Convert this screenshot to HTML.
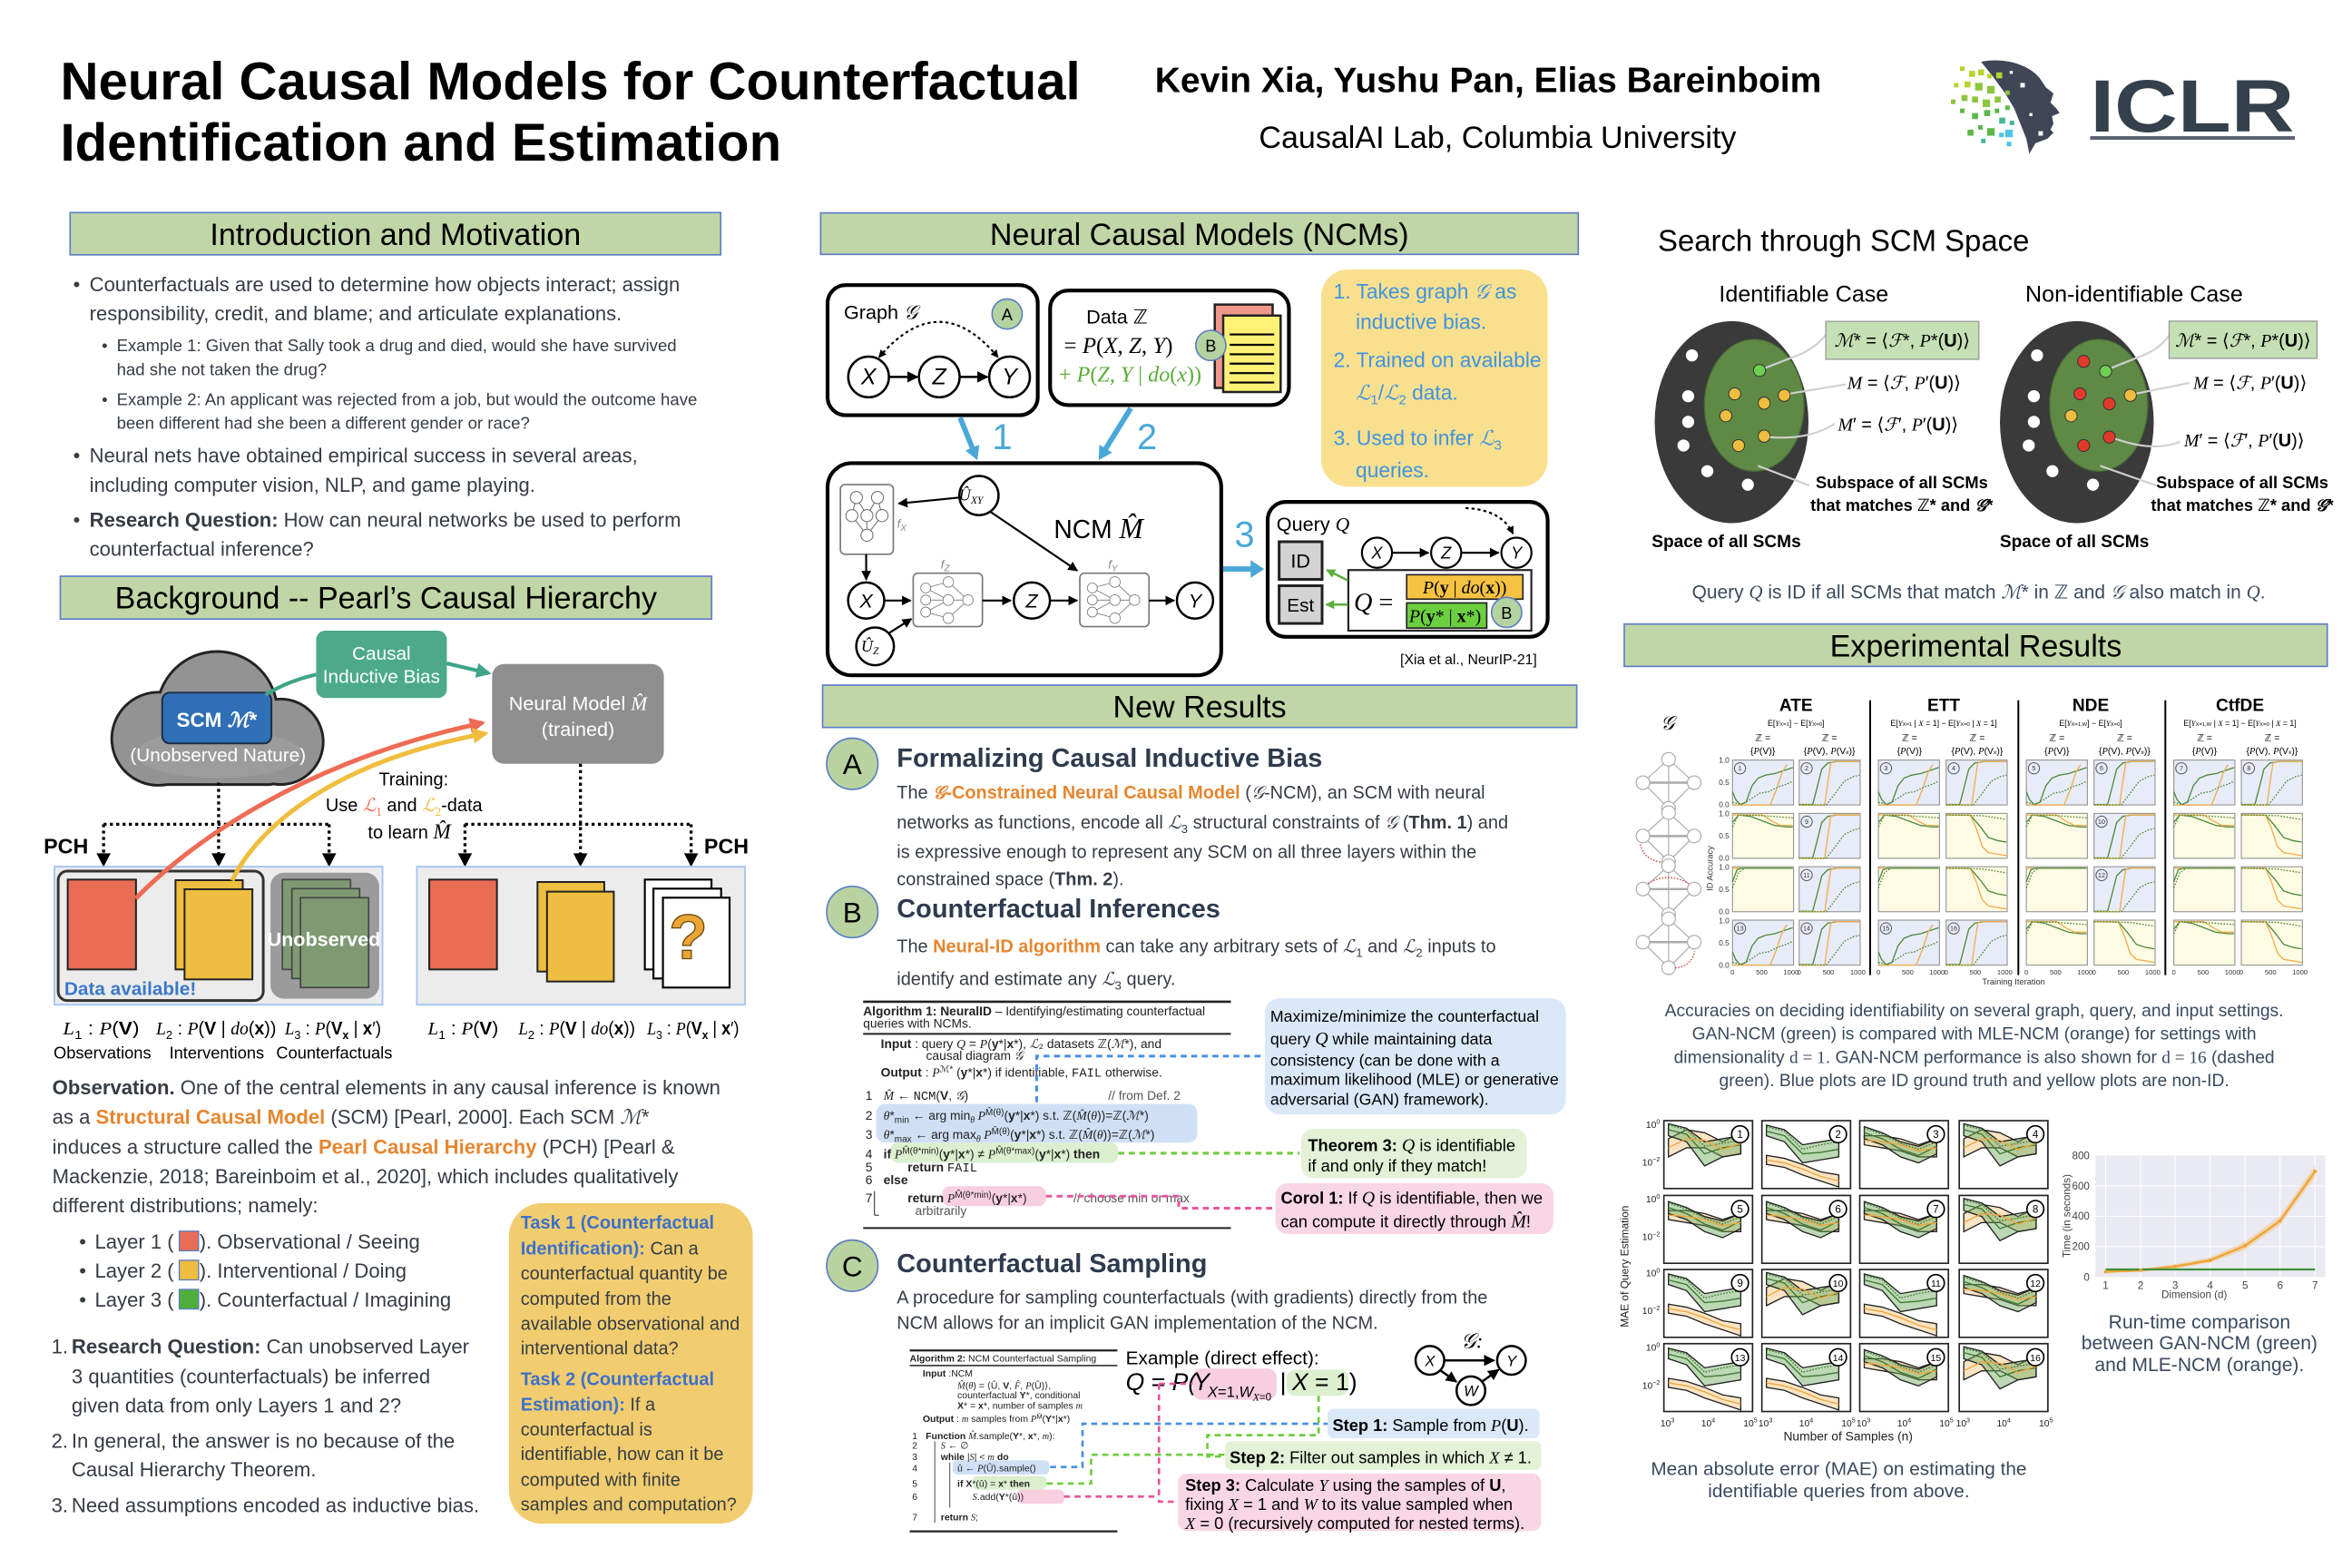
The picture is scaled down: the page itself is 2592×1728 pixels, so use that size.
<!DOCTYPE html>
<html><head><meta charset="utf-8">
<style>
html,body{margin:0;padding:0;background:#fff;}
body{width:2592px;height:1728px;overflow:hidden;}
svg{display:block;}
svg text{font-family:"Liberation Sans","DejaVu Sans",sans-serif;}
.m{font-family:"Liberation Serif","DejaVu Serif",serif;font-style:italic;}
.s{font-family:"Liberation Serif","DejaVu Serif",serif;}
.b{font-weight:bold;}
.tx{fill:#353c45;}
</style></head><body>
<svg width="2592" height="1728" viewBox="0 0 1560 1040" xmlns="http://www.w3.org/2000/svg">
<defs>
<marker id="ah" viewBox="0 0 10 10" refX="9" refY="5" markerWidth="5" markerHeight="5" orient="auto"><path d="M0,0L10,5L0,10z" fill="#000"/></marker>
<marker id="ahs" viewBox="0 0 10 10" refX="9" refY="5" markerWidth="4" markerHeight="4" orient="auto-start-reverse"><path d="M0,0L10,5L0,10z" fill="#000"/></marker>
<marker id="ahg" viewBox="0 0 10 10" refX="9" refY="5" markerWidth="4" markerHeight="4" orient="auto"><path d="M0,0L10,5L0,10z" fill="#5aad3a"/></marker>
<marker id="aht" viewBox="0 0 10 10" refX="8" refY="5" markerWidth="4" markerHeight="4" orient="auto"><path d="M0,0L10,5L0,10z" fill="#3fa489"/></marker>
<marker id="ahr" viewBox="0 0 10 10" refX="8" refY="5" markerWidth="3.5" markerHeight="3.5" orient="auto"><path d="M0,0L10,5L0,10z" fill="#ee6c55"/></marker>
<marker id="ahy" viewBox="0 0 10 10" refX="8" refY="5" markerWidth="3.5" markerHeight="3.5" orient="auto"><path d="M0,0L10,5L0,10z" fill="#f0bd3e"/></marker>
<g id="idA" fill="none" stroke-width="0.8"><polyline points="0,21 2,26 5,29.5 9,28 13,17 17,12 22,10 28,9 34,7 40,5" stroke="#4d8a3a"/><polyline points="0,29.8 25,29.8 29,20 33,8 36,3" stroke="#f0ad4e"/><polyline points="0,28 6,29.5 12,26 18,22 24,21 30,18 36,16 40,14" stroke="#4d8a3a" stroke-dasharray="1,1"/></g>
<g id="idB" fill="none" stroke-width="0.8"><polyline points="0,29.5 9,29.5 12,18 15,6 19,2 25,1 40,1" stroke="#4d8a3a"/><polyline points="0,29.8 17,29.8 19,15 21,2 23,1 40,1" stroke="#f0ad4e"/><polyline points="0,29.8 18,29.8 24,22 30,14 36,11 40,10" stroke="#4d8a3a" stroke-dasharray="1,1"/></g>
<g id="nonA" fill="none" stroke-width="0.8"><polyline points="0,6 4,1 12,2 20,5 28,8 36,9 40,9" stroke="#4d8a3a"/><polyline points="0,1 20,1 26,5 32,8 40,8" stroke="#f0ad4e"/><polyline points="0,9 4,1 20,1.5 40,3" stroke="#4d8a3a" stroke-dasharray="1,1"/></g>
<g id="nonB" fill="none" stroke-width="0.8"><polyline points="0,1 16,1 22,8 28,16 34,18 40,19" stroke="#4d8a3a"/><polyline points="0,1 16,1 20,10 24,22 28,26 34,27 40,28" stroke="#f0ad4e"/><polyline points="0,1 24,1.5 40,4" stroke="#4d8a3a" stroke-dasharray="1,1"/></g>
<g id="flat" fill="none" stroke-width="0.8"><polyline points="0,1 40,1" stroke="#f0ad4e"/><polyline points="0,10 3,2 6,1 40,1" stroke="#4d8a3a"/><polyline points="0,14 4,4 8,1 40,1" stroke="#4d8a3a" stroke-dasharray="1,1"/></g>
<g id="mA" stroke-width="0.8"><polygon points="3,3 15,6 27,16 39,14 51,12 51,24 39,26 27,28 15,14 3,10" fill="#6aa85a" fill-opacity="0.45"/><polygon points="3,23 15,25 27,29 39,34 51,36 51,44 39,40 27,36 15,31 3,29" fill="#f3c47a" fill-opacity="0.45"/><polyline points="3,7 15,10 27,22 39,21 51,19" fill="none" stroke="#3d7a30"/><polyline points="3,4 15,7 27,19 39,16 51,14" fill="none" stroke="#3d7a30" stroke-dasharray="1,1"/><polyline points="3,26 15,28 27,32 39,37 51,40" fill="none" stroke="#f0a53a"/></g>
<g id="mB" stroke-width="0.8"><polygon points="3,10 15,10 27,12 39,16 51,12 51,24 39,24 27,20 15,18 3,16" fill="#f3c47a" fill-opacity="0.45"/><polygon points="3,4 15,8 27,14 39,17 51,12 51,22 39,28 27,24 15,16 3,12" fill="#6aa85a" fill-opacity="0.45"/><polyline points="3,8 15,12 27,19 39,23 51,17" fill="none" stroke="#3d7a30"/><polyline points="3,5 15,9 27,15 39,19 51,14" fill="none" stroke="#3d7a30" stroke-dasharray="1,1"/><polyline points="3,13 15,14 27,16 39,20 51,18" fill="none" stroke="#f0a53a"/></g>
<g id="mC" stroke-width="0.8"><polygon points="3,12 15,6 27,8 39,14 51,8 51,22 39,24 27,18 15,18 3,24" fill="#f3c47a" fill-opacity="0.45"/><polygon points="3,2 15,5 27,14 39,12 51,10 51,22 39,24 27,30 15,14 3,10" fill="#6aa85a" fill-opacity="0.45"/><polyline points="3,6 15,9 27,22 39,18 51,16" fill="none" stroke="#3d7a30"/><polyline points="3,3 15,6 27,17 39,15 51,13" fill="none" stroke="#3d7a30" stroke-dasharray="1,1"/><polyline points="3,18 15,12 27,13 39,19 51,15" fill="none" stroke="#f0a53a"/></g>
<g id="net3" fill="#fff" stroke="#777" stroke-width="0.5"><line x1="7" y1="10" x2="22" y2="6"/><line x1="7" y1="18" x2="22" y2="18"/><line x1="7" y1="26" x2="22" y2="30"/><line x1="7" y1="10" x2="22" y2="18"/><line x1="7" y1="26" x2="22" y2="18"/><line x1="22" y1="6" x2="35" y2="18"/><line x1="22" y1="30" x2="35" y2="18"/><line x1="22" y1="18" x2="35" y2="18"/><circle cx="7" cy="10" r="3.3"/><circle cx="7" cy="18" r="3.3"/><circle cx="7" cy="26" r="3.3"/><circle cx="22" cy="6" r="3.5"/><circle cx="22" cy="18" r="3.5"/><circle cx="22" cy="30" r="3.5"/><circle cx="35" cy="18" r="3.5"/></g>
</defs>

<!-- HEADER -->
<text x="40" y="66" font-size="35" font-weight="bold" fill="#000">Neural Causal Models for Counterfactual</text>
<text x="40" y="106.5" font-size="35" font-weight="bold" fill="#000">Identification and Estimation</text>
<text x="766" y="61" font-size="23.5" font-weight="bold" fill="#000">Kevin Xia, Yushu Pan, Elias Bareinboim</text>
<text x="835" y="98" font-size="20.5" fill="#000">CausalAI Lab, Columbia University</text>
<!-- logo -->
<g>
<path d="M1314,41 C1328,38 1345,42 1353,52 L1357,58 L1362,62 L1360,68 L1364,72 L1366,75 L1361,77 L1362,82 L1360,86 L1362,88 L1358,92 L1350,95 L1346,102 L1344,92 L1340,82 L1336,72 L1330,62 L1322,51 Z" fill="#3f4656"/>
<g fill="#b7d52e"><rect x="1300" y="44" width="3" height="3"/><rect x="1306" y="47" width="4" height="4"/><rect x="1312" y="46" width="4" height="4"/><rect x="1318" y="49" width="3" height="3"/><rect x="1324" y="48" width="4" height="4"/><rect x="1296" y="55" width="3" height="3"/><rect x="1303" y="54" width="4" height="4"/></g>
<g fill="#8cc63f"><rect x="1310" y="55" width="5" height="5"/><rect x="1318" y="57" width="5" height="5"/><rect x="1294" y="66" width="3" height="3"/><rect x="1301" y="63" width="4" height="4"/><rect x="1308" y="64" width="4" height="4"/><rect x="1315" y="66" width="5" height="5"/><rect x="1323" y="64" width="4" height="4"/><rect x="1330" y="60" width="3" height="3"/></g>
<g fill="#5cb848"><rect x="1300" y="72" width="3" height="3"/><rect x="1308" y="75" width="4" height="4"/><rect x="1316" y="73" width="4" height="4"/><rect x="1323" y="72" width="3" height="3"/><rect x="1330" y="70" width="3" height="3"/><rect x="1305" y="86" width="4" height="4"/><rect x="1312" y="83" width="3" height="3"/><rect x="1318" y="85" width="5" height="5"/></g>
<g fill="#46b89a"><rect x="1326" y="78" width="4" height="4"/><rect x="1333" y="80" width="3" height="3"/><rect x="1314" y="92" width="3" height="3"/></g>
<g fill="#4cc2e8"><rect x="1330" y="86" width="5" height="5"/><rect x="1326" y="88" width="3" height="3"/><rect x="1331" y="94" width="3" height="3"/></g>
<g fill="#fff"><rect x="1333" y="47" width="2" height="2"/><rect x="1340" y="55" width="3" height="3"/><rect x="1346" y="75" width="2" height="2"/><rect x="1352" y="87" width="3" height="3"/></g>
<text x="1386.3" y="87.3" font-size="49" font-weight="bold" fill="#34404c" textLength="135.4" lengthAdjust="spacingAndGlyphs">ICLR</text>
<rect x="1386.3" y="90.3" width="135.8" height="2.4" fill="#5a636e"/>
</g>

<!-- SECTION HEADERS -->
<g stroke="#5b7ec9" stroke-width="1" fill="#c1d6a6">
<rect x="46.5" y="141" width="431.5" height="28"/>
<rect x="40" y="382.2" width="432" height="28.4"/>
<rect x="544.3" y="141.2" width="502.5" height="27.5"/>
<rect x="545.6" y="454.4" width="500.2" height="28.1"/>
<rect x="1077.3" y="413.9" width="466.3" height="28.1"/>
</g>
<g font-size="20.5" fill="#000" text-anchor="middle">
<text x="262.3" y="162.4">Introduction and Motivation</text>
<text x="256" y="403.7">Background -- Pearl’s Causal Hierarchy</text>
<text x="795.5" y="162.4">Neural Causal Models (NCMs)</text>
<text x="795.7" y="475.9">New Results</text>
<text x="1310.5" y="435.4">Experimental Results</text>
</g>

<!-- INTRO -->
<g class="tx" font-size="13.25">
<text x="48.5" y="193.2">•</text>
<text x="59.4" y="193.2">Counterfactuals are used to determine how objects interact; assign</text>
<text x="59.4" y="212.6">responsibility, credit, and blame; and articulate explanations.</text>
<text x="48.5" y="306.6">•</text>
<text x="59.4" y="306.6">Neural nets have obtained empirical success in several areas,</text>
<text x="59.4" y="326.1">including computer vision, NLP, and game playing.</text>
<text x="48.5" y="349.3">•</text>
<text x="59.4" y="349.3"><tspan font-weight="bold">Research Question:</tspan> How can neural networks be used to perform</text>
<text x="59.4" y="368.7">counterfactual inference?</text>
</g>
<g class="tx" font-size="11.2">
<text x="67.5" y="233">•</text>
<text x="77.4" y="233">Example 1: Given that Sally took a drug and died, would she have survived</text>
<text x="77.4" y="248.9">had she not taken the drug?</text>
<text x="67.5" y="268.7">•</text>
<text x="77.4" y="268.7">Example 2: An applicant was rejected from a job, but would the outcome have</text>
<text x="77.4" y="284.3">been different had she been a different gender or race?</text>
</g>

<!-- BACKGROUND DIAGRAM -->
<g stroke="#222" stroke-width="3.5" fill="#939393">
<circle cx="144" cy="472" r="39"/><circle cx="105" cy="490" r="30"/><circle cx="186" cy="492" r="27.5"/><rect x="95" y="488" width="95" height="31.5" rx="12"/>
</g>
<g fill="#939393">
<circle cx="144" cy="472" r="39"/><circle cx="105" cy="490" r="30"/><circle cx="186" cy="492" r="27.5"/><rect x="95" y="488" width="95" height="31.5" rx="12"/>
</g>
<ellipse cx="145" cy="500" rx="55" ry="16" fill="#a2a2a2" opacity="0.6"/>
<rect x="107.6" y="459.4" width="72.4" height="33.7" rx="5" fill="#2f6fb6" stroke="#1c2d45" stroke-width="1.2"/>
<text x="143.8" y="482" font-size="13.5" font-weight="bold" fill="#fff" text-anchor="middle">SCM <tspan class="m">ℳ</tspan>*</text>
<text x="144.6" y="505" font-size="12.5" fill="#fff" text-anchor="middle">(Unobserved Nature)</text>
<path d="M176,461 Q190,452 209.7,447.4" stroke="#3fa489" stroke-width="2.5" fill="none"/>
<rect x="209.7" y="418.3" width="86.7" height="44.7" rx="6" fill="#4caa8b"/>
<text x="253" y="437.5" font-size="12.5" fill="#fff" text-anchor="middle">Causal</text>
<text x="253" y="452.9" font-size="12.5" fill="#fff" text-anchor="middle">Inductive Bias</text>
<line x1="296.4" y1="440" x2="324" y2="446.5" stroke="#3fa489" stroke-width="2.5" marker-end="url(#aht)"/>
<rect x="326.4" y="440.4" width="113.9" height="66.2" rx="8" fill="#8f8f8f"/>
<text x="383.4" y="471" font-size="13" fill="#fff" text-anchor="middle">Neural Model <tspan class="m">M̂</tspan></text>
<text x="383.4" y="488" font-size="13" fill="#fff" text-anchor="middle">(trained)</text>

<!-- dotted -->
<g stroke="#000" stroke-width="2" stroke-dasharray="2,2.2" fill="none">
<path d="M145,519 V568"/><path d="M68.7,546.7 H218.3"/><path d="M68.7,546.7 V568"/><path d="M218.3,546.7 V568"/>
<path d="M385,506.6 V568"/><path d="M308.4,546.7 H458.4"/><path d="M308.4,546.7 V568"/><path d="M458.4,546.7 V568"/>
</g>
<g fill="#000">
<path d="M64,566 L73.4,566 L68.7,575z"/><path d="M140.3,566 L149.7,566 L145,575z"/><path d="M213.6,566 L223,566 L218.3,575z"/>
<path d="M303.7,566 L313.1,566 L308.4,575z"/><path d="M380.3,566 L389.7,566 L385,575z"/><path d="M453.7,566 L463.1,566 L458.4,575z"/>
</g>
<text x="29" y="566" font-size="14" font-weight="bold" fill="#000">PCH</text>
<text x="467" y="566" font-size="14" font-weight="bold" fill="#000">PCH</text>
<g font-size="12" fill="#000">
<text x="274.3" y="521" text-anchor="middle">Training:</text>
<text x="216" y="538">Use <tspan class="m" fill="#ee6c55">ℒ</tspan><tspan font-size="8" dy="3" fill="#ee6c55" class="s">1</tspan><tspan dy="-3"> and </tspan><tspan class="m" fill="#f0bd3e">ℒ</tspan><tspan font-size="8" dy="3" fill="#f0bd3e" class="s">2</tspan><tspan dy="-3">-data</tspan></text>
<text x="244" y="556">to learn <tspan class="m" font-size="14">M̂</tspan></text>
</g>

<!-- panels -->
<rect x="36.1" y="574.8" width="217.6" height="91.6" fill="#ececec" stroke="#a9c8ee" stroke-width="1.2"/>
<rect x="276.5" y="574.8" width="217.6" height="91.6" fill="#ececec" stroke="#a9c8ee" stroke-width="1.2"/>
<rect x="38.6" y="577.8" width="136" height="85.8" rx="6" fill="none" stroke="#333" stroke-width="1.8"/>
<g stroke="#222" stroke-width="1.2">
<rect x="44.9" y="583.4" width="45.3" height="59.6" fill="#e96c55"/>
<rect x="116.4" y="583.8" width="44.6" height="59.2" fill="#efbd40"/>
<rect x="122.4" y="589.8" width="45" height="59.8" fill="#efbd40"/>
</g>
<text x="42.7" y="660" font-size="12.5" font-weight="bold" fill="#3a78c9">Data available!</text>
<rect x="179.4" y="578.8" width="72.1" height="83.6" rx="9" fill="#9b9b9b"/>
<g stroke="#444" stroke-width="1" fill="#7f9a72">
<rect x="187.3" y="583.4" width="45.2" height="59.6"/><rect x="193.6" y="589.4" width="44.9" height="59.6"/><rect x="199.3" y="595.4" width="45.2" height="59.6"/>
</g>
<text x="214.8" y="627.5" font-size="13" font-weight="bold" fill="#fff" text-anchor="middle">Unobserved</text>
<g stroke="#222" stroke-width="1.2">
<rect x="284.7" y="583.4" width="44.9" height="59.6" fill="#e96c55"/>
<rect x="356.5" y="585" width="44.3" height="59.4" fill="#efbd40"/>
<rect x="362.8" y="591.4" width="44.3" height="59.6" fill="#efbd40"/>
</g>
<g stroke="#000" stroke-width="1.3" fill="#fff">
<rect x="427.7" y="583.4" width="44.2" height="59.6"/><rect x="433.4" y="589.4" width="44.9" height="59.6"/><rect x="439.7" y="595.4" width="44.2" height="59.6"/>
</g>
<text x="456.5" y="636" font-size="42" font-weight="bold" fill="#eca535" stroke="#6a4a10" stroke-width="0.8" text-anchor="middle">?</text>
<!-- curves -->
<path d="M90,596 C125,560 200,505 320,479.5" stroke="#ee6c55" stroke-width="3" fill="none" marker-end="url(#ahr)"/>
<path d="M154,584 C170,550 220,505 322,486.5" stroke="#f0bd3e" stroke-width="3" fill="none" marker-end="url(#ahy)"/>

<!-- layer labels -->
<g font-size="12" fill="#000" class="s">
<text x="41.8" y="686" textLength="50.6" lengthAdjust="spacingAndGlyphs"><tspan class="m">L</tspan><tspan font-size="8" dy="3">1</tspan><tspan dy="-3"> : </tspan><tspan class="m">P</tspan>(<tspan font-weight="bold">V</tspan>)</text>
<text x="103.5" y="686" textLength="79.7" lengthAdjust="spacingAndGlyphs"><tspan class="m">L</tspan><tspan font-size="8" dy="3">2</tspan><tspan dy="-3"> : </tspan><tspan class="m">P</tspan>(<tspan font-weight="bold">V</tspan> | <tspan class="m">do</tspan>(<tspan font-weight="bold">x</tspan>))</text>
<text x="188.9" y="686" textLength="63.9" lengthAdjust="spacingAndGlyphs"><tspan class="m">L</tspan><tspan font-size="8" dy="3">3</tspan><tspan dy="-3"> : </tspan><tspan class="m">P</tspan>(<tspan font-weight="bold">V</tspan><tspan font-size="8" dy="3" font-weight="bold">x</tspan><tspan dy="-3"> | </tspan><tspan font-weight="bold">x</tspan>′)</text>
<text x="283.8" y="686" textLength="46.8" lengthAdjust="spacingAndGlyphs"><tspan class="m">L</tspan><tspan font-size="8" dy="3">1</tspan><tspan dy="-3"> : </tspan><tspan class="m">P</tspan>(<tspan font-weight="bold">V</tspan>)</text>
<text x="343.8" y="686" textLength="77.5" lengthAdjust="spacingAndGlyphs"><tspan class="m">L</tspan><tspan font-size="8" dy="3">2</tspan><tspan dy="-3"> : </tspan><tspan class="m">P</tspan>(<tspan font-weight="bold">V</tspan> | <tspan class="m">do</tspan>(<tspan font-weight="bold">x</tspan>))</text>
<text x="429.2" y="686" textLength="61" lengthAdjust="spacingAndGlyphs"><tspan class="m">L</tspan><tspan font-size="8" dy="3">3</tspan><tspan dy="-3"> : </tspan><tspan class="m">P</tspan>(<tspan font-weight="bold">V</tspan><tspan font-size="8" dy="3" font-weight="bold">x</tspan><tspan dy="-3"> | </tspan><tspan font-weight="bold">x</tspan>′)</text>
</g>
<g font-size="11" fill="#000">
<text x="35.5" y="702">Observations</text><text x="112.3" y="702">Interventions</text><text x="183.2" y="702">Counterfactuals</text>
</g>

<!-- OBSERVATION -->
<g class="tx" font-size="13.3">
<text x="34.7" y="725.7"><tspan font-weight="bold">Observation.</tspan> One of the central elements in any causal inference is known</text>
<text x="34.7" y="745.5">as a <tspan font-weight="bold" fill="#e5862f">Structural Causal Model</tspan> (SCM) [Pearl, 2000]. Each SCM <tspan class="m">ℳ</tspan>*</text>
<text x="34.7" y="765.2">induces a structure called the <tspan font-weight="bold" fill="#e5862f">Pearl Causal Hierarchy</tspan> (PCH) [Pearl &amp;</text>
<text x="34.7" y="784.9">Mackenzie, 2018; Bareinboim et al., 2020], which includes qualitatively</text>
<text x="34.7" y="804">different distributions; namely:</text>
<text x="52.5" y="828.1">•</text><text x="62.9" y="828.1">Layer 1 (</text><text x="132.3" y="828.1">). Observational / Seeing</text>
<text x="52.5" y="847.4">•</text><text x="62.9" y="847.4">Layer 2 (</text><text x="132.3" y="847.4">). Interventional / Doing</text>
<text x="52.5" y="866.7">•</text><text x="62.9" y="866.7">Layer 3 (</text><text x="132.3" y="866.7">). Counterfactual / Imagining</text>
<text x="34.1" y="897.8">1.</text><text x="47.5" y="897.8"><tspan font-weight="bold">Research Question:</tspan> Can unobserved Layer</text>
<text x="47.5" y="917.5">3 quantities (counterfactuals) be inferred</text>
<text x="47.5" y="936.8">given data from only Layers 1 and 2?</text>
<text x="34.1" y="960.3">2.</text><text x="47.5" y="960.3">In general, the answer is no because of the</text>
<text x="47.5" y="979.3">Causal Hierarchy Theorem.</text>
<text x="34.1" y="1003">3.</text><text x="47.5" y="1003">Need assumptions encoded as inductive bias.</text>
</g>
<g stroke="#5a7fc0" stroke-width="0.8">
<rect x="118.9" y="816.6" width="12.8" height="13" fill="#e96c55"/>
<rect x="118.9" y="835.9" width="12.8" height="13" fill="#efbd40"/>
<rect x="118.9" y="855.2" width="12.8" height="13" fill="#4fae3a"/>
</g>
<!-- Task box -->
<rect x="337.6" y="798" width="161.7" height="212.6" rx="22" fill="#f2cd6f"/>
<g font-size="12" class="tx">
<text x="345.3" y="815" font-weight="bold" fill="#3d70c9">Task 1 (Counterfactual</text>
<text x="345.3" y="832"><tspan font-weight="bold" fill="#3d70c9">Identification):</tspan> Can a</text>
<text x="345.3" y="848.6">counterfactual quantity be</text>
<text x="345.3" y="865.5">computed from the</text>
<text x="345.3" y="882">available observational and</text>
<text x="345.3" y="898.4">interventional data?</text>
<text x="345.3" y="918.8" font-weight="bold" fill="#3d70c9">Task 2 (Counterfactual</text>
<text x="345.3" y="935.6"><tspan font-weight="bold" fill="#3d70c9">Estimation):</tspan> If a</text>
<text x="345.3" y="952.1">counterfactual is</text>
<text x="345.3" y="968.5">identifiable, how can it be</text>
<text x="345.3" y="985.4">computed with finite</text>
<text x="345.3" y="1001.9">samples and computation?</text>
</g>

<!-- NCM SECTION -->
<g fill="#fff" stroke="#000" stroke-width="2.5">
<rect x="548.9" y="189.1" width="139.4" height="86.3" rx="12"/>
<rect x="696.5" y="192.7" width="158.4" height="76" rx="12"/>
<rect x="548.9" y="307.2" width="261.1" height="140.7" rx="16"/>
<rect x="840.8" y="332.9" width="185.7" height="89.5" rx="12"/>
</g>
<text x="559.7" y="211.6" font-size="13" fill="#000">Graph <tspan class="m">𝒢</tspan></text>
<g fill="#b5d3a0" stroke="#5b7fc4" stroke-width="1">
<circle cx="668" cy="208.3" r="10"/>
</g>
<path d="M583,237 Q623,190 662,237" fill="none" stroke="#000" stroke-width="1.3" stroke-dasharray="2,2" marker-start="url(#ahs)" marker-end="url(#ahs)"/>
<g fill="#fff" stroke="#000" stroke-width="1.5">
<circle cx="576.1" cy="250" r="13.5"/><circle cx="623" cy="250" r="13.5"/><circle cx="669.6" cy="250" r="13.5"/>
</g>
<g stroke="#000" stroke-width="1.5"><line x1="589.6" y1="250" x2="608.5" y2="250" marker-end="url(#ah)"/><line x1="636.5" y1="250" x2="655" y2="250" marker-end="url(#ah)"/></g>
<g class="m" font-size="15" text-anchor="middle" fill="#000"><text x="576.1" y="255">X</text><text x="623" y="255">Z</text><text x="669.6" y="255">Y</text></g>
<text x="668" y="212.5" font-size="11" text-anchor="middle" fill="#000">A</text>
<!-- data -->
<text x="720.5" y="214.7" font-size="13" fill="#000">Data ℤ</text>
<text x="705.7" y="234" font-size="15" fill="#000" class="s">= <tspan class="m">P</tspan>(<tspan class="m">X</tspan>, <tspan class="m">Z</tspan>, <tspan class="m">Y</tspan>)</text>
<text x="702.4" y="253" font-size="14.5" fill="#5aad3a" class="s">+ <tspan class="m">P</tspan>(<tspan class="m">Z</tspan>, <tspan class="m">Y</tspan> | <tspan class="m">do</tspan>(<tspan class="m">x</tspan>))</text>
<rect x="805.7" y="202" width="38.4" height="55.3" fill="#f0968a" stroke="#222" stroke-width="1.5"/>
<rect x="811.3" y="209.3" width="38.1" height="50.7" fill="#fff176" stroke="#222" stroke-width="1.5"/>
<g stroke="#000" stroke-width="1.3"><line x1="815.6" y1="221.8" x2="845.1" y2="221.8"/><line x1="815.6" y1="228.7" x2="845.1" y2="228.7"/><line x1="815.6" y1="235" x2="845.1" y2="235"/><line x1="815.6" y1="241.2" x2="845.1" y2="241.2"/><line x1="815.6" y1="247.5" x2="845.1" y2="247.5"/><line x1="815.6" y1="253.7" x2="845.1" y2="253.7"/></g>
<circle cx="803.1" cy="229.1" r="10" fill="#b5d3a0" stroke="#5b7fc4" stroke-width="1"/>
<text x="803.1" y="233.3" font-size="11" text-anchor="middle" fill="#000">B</text>
<!-- blue arrows -->
<g stroke="#4aa8d8" stroke-width="3.5"><line x1="636.8" y1="277" x2="645.5" y2="298.5"/><line x1="750" y1="270.8" x2="732.5" y2="299"/><line x1="811.3" y1="377.4" x2="831" y2="377.4"/></g>
<g fill="#4aa8d8"><path d="M648.3,305.2 L649.5,295 L640.3,298.8z"/><path d="M728.7,305.2 L737.7,300.2 L729.2,295z"/><path d="M838.5,377.4 L829.5,371.5 L829.5,383.3z"/></g>
<g font-size="24" fill="#4aa8d8" text-anchor="middle"><text x="664.7" y="298">1</text><text x="760.8" y="298">2</text><text x="825.4" y="362.6">3</text></g>
<!-- NCM inner -->
<rect x="557.4" y="321.4" width="35.1" height="46.2" rx="3" fill="#fff" stroke="#777" stroke-width="1"/>
<g fill="#fff" stroke="#666" stroke-width="0.6">
<line x1="568" y1="330" x2="565" y2="342"/><line x1="568" y1="330" x2="575" y2="342"/><line x1="582" y1="330" x2="575" y2="342"/><line x1="582" y1="330" x2="585" y2="342"/><line x1="565" y1="342" x2="575" y2="355"/><line x1="575" y1="342" x2="575" y2="355"/><line x1="585" y1="342" x2="575" y2="355"/>
<circle cx="568" cy="330" r="4"/><circle cx="582" cy="330" r="4"/><circle cx="565" cy="342" r="4"/><circle cx="575" cy="342" r="4"/><circle cx="585" cy="342" r="4"/><circle cx="575" cy="355" r="4"/>
</g>
<rect x="605.7" y="380.2" width="45.9" height="35.4" rx="3" fill="#fff" stroke="#777" stroke-width="1"/>
<rect x="716.2" y="380.2" width="45.9" height="35.4" rx="3" fill="#fff" stroke="#777" stroke-width="1"/>
<use href="#net3" x="607" y="380"/><use href="#net3" x="717.5" y="380"/>
<g class="m" font-size="8" fill="#888"><text x="595" y="350">f<tspan font-size="6" dy="2">X</tspan></text><text x="624" y="377">f<tspan font-size="6" dy="2">Z</tspan></text><text x="735" y="377">f<tspan font-size="6" dy="2">Y</tspan></text></g>
<g fill="#fff" stroke="#000" stroke-width="1.5">
<circle cx="649.3" cy="328.7" r="13"/><circle cx="574.5" cy="398.3" r="12"/><circle cx="684.4" cy="398.3" r="12"/><circle cx="792.6" cy="398.3" r="12"/><circle cx="580.4" cy="428.7" r="12.5"/>
</g>
<g stroke="#000" stroke-width="1.3">
<line x1="636.3" y1="330" x2="596" y2="334" marker-end="url(#ah)"/>
<line x1="657" y1="339.5" x2="714.5" y2="378.5" marker-end="url(#ah)"/>
<line x1="574.5" y1="367.6" x2="574.5" y2="384.5" marker-end="url(#ah)"/>
<line x1="586.5" y1="398.3" x2="604" y2="398.3" marker-end="url(#ah)"/>
<line x1="651.6" y1="398.3" x2="670.5" y2="398.3" marker-end="url(#ah)"/>
<line x1="696.4" y1="398.3" x2="714.5" y2="398.3" marker-end="url(#ah)"/>
<line x1="762.1" y1="398.3" x2="778.8" y2="398.3" marker-end="url(#ah)"/>
<line x1="589.5" y1="420" x2="604.5" y2="410.5" marker-end="url(#ah)"/>
</g>
<g class="m" font-size="13" text-anchor="middle" fill="#000"><text x="574.5" y="403">X</text><text x="684.4" y="403">Z</text><text x="792.6" y="403">Y</text></g>
<text x="644" y="332" class="m" font-size="11" text-anchor="middle" fill="#000">Û<tspan font-size="7" dy="2">XY</tspan></text>
<text x="577" y="432" class="m" font-size="11" text-anchor="middle" fill="#000">Û<tspan font-size="7" dy="2">Z</tspan></text>
<text x="699" y="357" font-size="17" fill="#000">NCM <tspan class="m" font-size="19">M̂</tspan></text>
<!-- Query -->
<text x="846.7" y="352" font-size="13" fill="#000">Query <tspan class="m">Q</tspan></text>
<g fill="#d3d3d3" stroke="#222" stroke-width="1.8"><rect x="848.4" y="359.3" width="28.5" height="25"/><rect x="848.4" y="388.5" width="28.5" height="25"/></g>
<text x="862.6" y="376.5" font-size="13" text-anchor="middle" fill="#000">ID</text>
<text x="862.6" y="405.7" font-size="12.5" text-anchor="middle" fill="#000">Est</text>
<g fill="#fff" stroke="#000" stroke-width="1.3"><circle cx="913.3" cy="366.6" r="10"/><circle cx="959.2" cy="366.6" r="10"/><circle cx="1005.8" cy="366.6" r="10"/></g>
<g stroke="#000" stroke-width="1.3"><line x1="923.3" y1="366.6" x2="947.5" y2="366.6" marker-end="url(#ah)"/><line x1="969.2" y1="366.6" x2="994" y2="366.6" marker-end="url(#ah)"/></g>
<path d="M972,337 Q996,338 1003.5,354" fill="none" stroke="#000" stroke-width="1.3" stroke-dasharray="2,2" marker-end="url(#ahs)"/>
<g class="m" font-size="11" text-anchor="middle" fill="#000"><text x="913.3" y="370.5">X</text><text x="959.2" y="370.5">Z</text><text x="1005.8" y="370.5">Y</text></g>
<rect x="894.3" y="378.1" width="121.4" height="40.2" fill="#fff" stroke="#222" stroke-width="1.3"/>
<text x="898" y="405" class="m" font-size="17" fill="#000">Q <tspan font-style="normal">=</tspan></text>
<rect x="933" y="381.2" width="77.1" height="16.2" fill="#f5c242" stroke="#222" stroke-width="1"/>
<text x="971.5" y="393.5" class="s" font-size="12" text-anchor="middle" fill="#000"><tspan class="m">P</tspan>(<tspan font-weight="bold">y</tspan> | <tspan class="m">do</tspan>(<tspan font-weight="bold">x</tspan>))</text>
<rect x="933" y="399.9" width="53.1" height="16.7" fill="#6ccf3f" stroke="#222" stroke-width="1"/>
<text x="958.5" y="412.5" class="s" font-size="12" text-anchor="middle" fill="#000"><tspan class="m">P</tspan>(<tspan font-weight="bold">y</tspan>* | <tspan font-weight="bold">x</tspan>*)</text>
<circle cx="999.3" cy="406.2" r="10" fill="#b5d3a0" stroke="#5b7fc4" stroke-width="1"/>
<text x="999.3" y="410.4" font-size="11" text-anchor="middle" fill="#000">B</text>
<g stroke="#5aad3a" stroke-width="1.5"><line x1="894" y1="385" x2="880" y2="378" marker-end="url(#ahg)"/><line x1="894" y1="401" x2="879.5" y2="401" marker-end="url(#ahg)"/></g>
<text x="928.7" y="440.5" font-size="9.5" fill="#000">[Xia et al., NeurIP-21]</text>
<!-- info box -->
<rect x="876.3" y="178.7" width="150.2" height="144.2" rx="18" fill="#f9e08f"/>
<g font-size="13.7" fill="#3f93e0">
<text x="884.5" y="197.9">1. Takes graph <tspan class="m">𝒢</tspan> as</text>
<text x="899.2" y="218.1">inductive bias.</text>
<text x="884.5" y="243.6">2. Trained on available</text>
<text x="899.2" y="265"><tspan class="m">ℒ</tspan><tspan font-size="9" dy="3">1</tspan><tspan dy="-3">/</tspan><tspan class="m">ℒ</tspan><tspan font-size="9" dy="3">2</tspan><tspan dy="-3"> data.</tspan></text>
<text x="884.5" y="295.2">3. Used to infer <tspan class="m">ℒ</tspan><tspan font-size="9" dy="3">3</tspan></text>
<text x="899.2" y="316.6">queries.</text>
</g>

<!-- NEW RESULTS -->
<g fill="#b9d3a0" stroke="#5b7fc4" stroke-width="1"><circle cx="565.3" cy="506.6" r="17"/><circle cx="565.3" cy="604.9" r="17"/><circle cx="565.3" cy="839.5" r="17"/></g>
<g font-size="19" text-anchor="middle" fill="#000"><text x="565.3" y="513.5">A</text><text x="565.3" y="611.8">B</text><text x="565.3" y="846.4">C</text></g>
<g font-size="17.4" font-weight="bold" fill="#2e3b4e">
<text x="594.8" y="508.5">Formalizing Causal Inductive Bias</text>
<text x="594.8" y="608.6">Counterfactual Inferences</text>
<text x="594.8" y="843.8">Counterfactual Sampling</text>
</g>
<g class="tx" font-size="12">
<text x="594.8" y="529.5">The <tspan font-weight="bold" fill="#e5862f"><tspan class="m">𝒢</tspan>-Constrained Neural Causal Model</tspan> (<tspan class="m">𝒢</tspan>-NCM), an SCM with neural</text>
<text x="594.8" y="549.5">networks as functions, encode all <tspan class="m">ℒ</tspan><tspan font-size="8" dy="3">3</tspan><tspan dy="-3"> structural constraints of </tspan><tspan class="m">𝒢</tspan> (<tspan font-weight="bold">Thm. 1</tspan>) and</text>
<text x="594.8" y="569">is expressive enough to represent any SCM on all three layers within the</text>
<text x="594.8" y="587">constrained space (<tspan font-weight="bold">Thm. 2</tspan>).</text>
<text x="594.8" y="631.8">The <tspan font-weight="bold" fill="#e5862f">Neural-ID algorithm</tspan> can take any arbitrary sets of <tspan class="m">ℒ</tspan><tspan font-size="8" dy="3">1</tspan><tspan dy="-3"> and </tspan><tspan class="m">ℒ</tspan><tspan font-size="8" dy="3">2</tspan><tspan dy="-3"> inputs to</tspan></text>
<text x="594.8" y="653.3">identify and estimate any <tspan class="m">ℒ</tspan><tspan font-size="8" dy="3">3</tspan><tspan dy="-3"> query.</tspan></text>
<text x="594.8" y="864.5">A procedure for sampling counterfactuals (with gradients) directly from the</text>
<text x="594.8" y="881.3">NCM allows for an implicit GAN implementation of the NCM.</text>
</g>

<!-- ALGORITHM 1 -->
<rect x="581.1" y="732.2" width="213" height="25.7" rx="6" fill="#cfe0f6"/>
<rect x="590.4" y="757.9" width="151.3" height="13.4" rx="5" fill="#dcefcf"/>
<rect x="625" y="786.8" width="68.8" height="13.2" rx="5" fill="#f8cfe0"/>
<g stroke="#222"><line x1="572.5" y1="664.4" x2="816.4" y2="664.4" stroke-width="1.6"/><line x1="572.5" y1="685.7" x2="816.4" y2="685.7" stroke-width="1.2"/><line x1="572.5" y1="814.5" x2="816.4" y2="814.5" stroke-width="1.2"/><line x1="580" y1="790" x2="580" y2="806" stroke-width="0.6"/><line x1="580" y1="806" x2="583" y2="806" stroke-width="0.6"/></g>
<g class="s" font-size="8.3" fill="#222">
<text x="572.5" y="673.4"><tspan font-weight="bold">Algorithm 1:</tspan> <tspan font-weight="bold">NeuralID</tspan> – Identifying/estimating counterfactual</text>
<text x="572.5" y="681.5">queries with NCMs.</text>
<text x="584.2" y="695"><tspan font-weight="bold">Input</tspan>   : query <tspan class="m">Q</tspan> = <tspan class="m">P</tspan>(<tspan font-weight="bold">y</tspan>*|<tspan font-weight="bold">x</tspan>*), <tspan class="m">ℒ</tspan>₂ datasets ℤ(<tspan class="m">ℳ</tspan>*), and</text>
<text x="614.2" y="703">causal diagram <tspan class="m">𝒢</tspan></text>
<text x="584.2" y="714"><tspan font-weight="bold">Output</tspan> : <tspan class="m">P</tspan><tspan font-size="6" dy="-3">ℳ*</tspan><tspan dy="3"> (</tspan><tspan font-weight="bold">y</tspan>*|<tspan font-weight="bold">x</tspan>*) if identifiable, <tspan font-family="Liberation Mono,monospace">FAIL</tspan> otherwise.</text>
<text x="574" y="729.6">1</text><text x="586" y="729.6"><tspan class="m">M̂</tspan> ← <tspan font-family="Liberation Mono,monospace">NCM</tspan>(<tspan font-weight="bold">V</tspan>, <tspan class="m">𝒢</tspan>)</text><text x="735" y="729.6" font-family="Liberation Mono,monospace" fill="#555">// from Def. 2</text>
<text x="574" y="742.8">2</text><text x="586" y="742.8"><tspan class="m">θ</tspan>*<tspan font-size="6" dy="2">min</tspan><tspan dy="-2"> ← arg min</tspan><tspan font-size="6" class="m" dy="2">θ</tspan><tspan dy="-2" class="m"> P</tspan><tspan font-size="6" dy="-3">M̂(θ)</tspan><tspan dy="3">(</tspan><tspan font-weight="bold">y</tspan>*|<tspan font-weight="bold">x</tspan>*) s.t. ℤ(<tspan class="m">M̂</tspan>(<tspan class="m">θ</tspan>))=ℤ(<tspan class="m">ℳ</tspan>*)</text>
<text x="574" y="755.3">3</text><text x="586" y="755.3"><tspan class="m">θ</tspan>*<tspan font-size="6" dy="2">max</tspan><tspan dy="-2"> ← arg max</tspan><tspan font-size="6" class="m" dy="2">θ</tspan><tspan dy="-2" class="m"> P</tspan><tspan font-size="6" dy="-3">M̂(θ)</tspan><tspan dy="3">(</tspan><tspan font-weight="bold">y</tspan>*|<tspan font-weight="bold">x</tspan>*) s.t. ℤ(<tspan class="m">M̂</tspan>(<tspan class="m">θ</tspan>))=ℤ(<tspan class="m">ℳ</tspan>*)</text>
<text x="574" y="768.3">4</text><text x="586" y="768.3"><tspan font-weight="bold">if</tspan> <tspan class="m">P</tspan><tspan font-size="6" dy="-3">M̂(θ*min)</tspan><tspan dy="3">(</tspan><tspan font-weight="bold">y</tspan>*|<tspan font-weight="bold">x</tspan>*) ≠ <tspan class="m">P</tspan><tspan font-size="6" dy="-3">M̂(θ*max)</tspan><tspan dy="3">(</tspan><tspan font-weight="bold">y</tspan>*|<tspan font-weight="bold">x</tspan>*) <tspan font-weight="bold">then</tspan></text>
<text x="574" y="777">5</text><text x="602" y="777"><tspan font-weight="bold">return</tspan> <tspan font-family="Liberation Mono,monospace">FAIL</tspan></text>
<text x="574" y="785.4">6</text><text x="586" y="785.4" font-weight="bold">else</text>
<text x="574" y="797.4">7</text><text x="602" y="797.4"><tspan font-weight="bold">return</tspan> <tspan class="m">P</tspan><tspan font-size="6" dy="-3">M̂(θ*min)</tspan><tspan dy="3">(</tspan><tspan font-weight="bold">y</tspan>*|<tspan font-weight="bold">x</tspan>*)</text><text x="712" y="797.4" font-family="Liberation Mono,monospace" fill="#555">// choose min or max</text>
<text x="607" y="805.8" font-family="Liberation Mono,monospace" fill="#555">arbitrarily</text>
</g>
<rect x="838.9" y="662" width="199.7" height="77.2" rx="10" fill="#dae8f8"/>
<rect x="863" y="748.7" width="149.7" height="32.7" rx="8" fill="#e3f1d6"/>
<rect x="846" y="784.8" width="184.3" height="33.7" rx="8" fill="#f9d6e4"/>
<g font-size="10.7" fill="#000">
<text x="842.5" y="677.7">Maximize/minimize the counterfactual</text>
<text x="842.5" y="692.7">query <tspan class="m" font-size="12">Q</tspan> while maintaining data</text>
<text x="842.5" y="706.8">consistency (can be done with a</text>
<text x="842.5" y="719.5">maximum likelihood (MLE) or generative</text>
<text x="842.5" y="732.9">adversarial (GAN) framework).</text>
</g>
<g font-size="11" fill="#000">
<text x="867.5" y="763.5"><tspan font-weight="bold">Theorem 3:</tspan> <tspan class="m" font-size="12">Q</tspan> is identifiable</text>
<text x="867.5" y="777">if and only if they match!</text>
<text x="849.5" y="798.3"><tspan font-weight="bold">Corol 1:</tspan> If <tspan class="m" font-size="12">Q</tspan> is identifiable, then we</text>
<text x="849.5" y="814">can compute it directly through <tspan class="m" font-size="12">M̂</tspan>!</text>
</g>
<g fill="none" stroke-width="1.8" stroke-dasharray="4,3">
<path d="M687.6,731 V700.5 H838.9" stroke="#4a90e2"/>
<path d="M741.7,764.9 H862" stroke="#6fcc3c"/>
<path d="M693.8,793.4 H781.8 V801.4 H846" stroke="#e7559c"/>
</g>

<!-- ALGORITHM 2 -->
<rect x="631.9" y="968.5" width="64" height="9.5" rx="3" fill="#cfe0f6"/>
<rect x="645" y="979" width="49.2" height="9" rx="3" fill="#dcefcf"/>
<rect x="674.5" y="988" width="31.2" height="9.4" rx="3" fill="#f8cfe0"/>
<g stroke="#222"><line x1="603.4" y1="895.7" x2="741.1" y2="895.7" stroke-width="1.3"/><line x1="603.4" y1="905.7" x2="741.1" y2="905.7" stroke-width="0.9"/><line x1="603.4" y1="1015.7" x2="741.1" y2="1015.7" stroke-width="1.3"/><line x1="620" y1="956" x2="620" y2="1010" stroke-width="0.5"/><line x1="630" y1="970" x2="630" y2="1000" stroke-width="0.5"/></g>
<g class="s" font-size="6.3" fill="#222">
<text x="603.4" y="903"><tspan font-weight="bold">Algorithm 2:</tspan> NCM Counterfactual Sampling</text>
<text x="612" y="913"><tspan font-weight="bold">Input</tspan>   :NCM</text>
<text x="635" y="921"><tspan class="m">M̂</tspan>(<tspan class="m">θ</tspan>) = ⟨Û, <tspan font-weight="bold">V</tspan>, <tspan class="m">F̂</tspan>, <tspan class="m">P</tspan>(Û)⟩,</text>
<text x="635" y="927.5">counterfactual <tspan font-weight="bold">Y</tspan>*, conditional</text>
<text x="635" y="934.5"><tspan font-weight="bold">X</tspan>* = <tspan font-weight="bold">x</tspan>*, number of samples <tspan class="m">m</tspan></text>
<text x="612" y="943"><tspan font-weight="bold">Output</tspan> : <tspan class="m">m</tspan> samples from <tspan class="m">P</tspan><tspan font-size="4.5" dy="-2">M̂</tspan><tspan dy="2">(</tspan><tspan font-weight="bold">Y</tspan>*|<tspan font-weight="bold">x</tspan>*)</text>
<text x="605" y="954.5">1</text><text x="614" y="954.5"><tspan font-weight="bold">Function</tspan> <tspan class="m">M̂</tspan>.sample(<tspan font-weight="bold">Y</tspan>*, <tspan font-weight="bold">x</tspan>*, <tspan class="m">m</tspan>):</text>
<text x="605" y="961">2</text><text x="624" y="961"><tspan class="m">S</tspan> ← ∅</text>
<text x="605" y="968.5">3</text><text x="624" y="968.5"><tspan font-weight="bold">while</tspan> |<tspan class="m">S</tspan>| &lt; <tspan class="m">m</tspan> <tspan font-weight="bold">do</tspan></text>
<text x="605" y="976">4</text><text x="635" y="976">û ← <tspan class="m">P</tspan>(Û).sample()</text>
<text x="605" y="986">5</text><text x="635" y="986"><tspan font-weight="bold">if</tspan> <tspan font-weight="bold">X</tspan>*(û) = <tspan font-weight="bold">x</tspan>* <tspan font-weight="bold">then</tspan></text>
<text x="605" y="995">6</text><text x="645" y="995"><tspan class="m">S</tspan>.add(<tspan font-weight="bold">Y</tspan>*(û))</text>
<text x="605" y="1008.5">7</text><text x="624" y="1008.5"><tspan font-weight="bold">return</tspan> <tspan class="m">S</tspan>;</text>
</g>
<rect x="791" y="907.7" width="55.7" height="20.7" rx="6" fill="#f8cfe0"/>
<rect x="853.3" y="908.4" width="41" height="17.4" rx="6" fill="#dcefcf"/>
<text x="746.7" y="905" font-size="12.5" fill="#000">Example (direct effect):</text>
<g class="m" fill="#000">
<text x="746.7" y="922" font-size="16">Q <tspan font-style="normal">=</tspan> P(</text>
<text x="791.5" y="922" font-size="16">Y</text>
<text x="801" y="926.5" font-size="10">X<tspan font-style="normal">=1,</tspan>W</text>
<text x="831" y="929" font-size="7" font-style="normal"><tspan class="m">X</tspan>=0</text>
<text x="849" y="922" font-size="16" font-style="normal">|</text>
<text x="857" y="922" font-size="16">X <tspan font-style="normal">= 1)</tspan></text>
</g>
<g fill="#fff" stroke="#000" stroke-width="1.5"><circle cx="948.4" cy="902.3" r="9.5"/><circle cx="1002.5" cy="902.3" r="9.5"/><circle cx="975.6" cy="922.4" r="9.5"/></g>
<g stroke="#000" stroke-width="1.5"><line x1="957.9" y1="902.3" x2="991" y2="902.3" marker-end="url(#ah)"/><line x1="955.5" y1="909" x2="966" y2="916.5" marker-end="url(#ah)"/><line x1="983.5" y1="916" x2="994" y2="908.5" marker-end="url(#ah)"/></g>
<g class="m" font-size="10" text-anchor="middle" fill="#000"><text x="948.4" y="906">X</text><text x="1002.5" y="906">Y</text><text x="975.6" y="926">W</text></g>
<text x="969" y="894" class="m" font-size="14" fill="#000">𝒢:</text>
<rect x="880.5" y="934.4" width="140.7" height="19.5" rx="4" fill="#dae8f8"/>
<rect x="812.6" y="955.9" width="209.6" height="19.1" rx="4" fill="#e3f1d6"/>
<rect x="781.2" y="977.4" width="241" height="38.1" rx="6" fill="#f9d6e4"/>
<g fill="none" stroke-width="1.6" stroke-dasharray="4,3">
<path d="M696.5,973 H718 V944.3 H880.5" stroke="#4a90e2"/>
<path d="M874.6,925.8 V951.9 H800.8 V966 H812.6" stroke="#6fcc3c"/>
<path d="M694.2,984 H723.7 V964.9 H812.6" stroke="#6fcc3c"/>
<path d="M705.7,992.6 H768.7 M768.7,917.8 V996 H781.2 M768.7,917.8 H791" stroke="#e7559c"/>
</g>
<g font-size="11" fill="#000">
<text x="883.8" y="949"><tspan font-weight="bold">Step 1:</tspan> Sample from <tspan class="m">P</tspan>(<tspan font-weight="bold">U</tspan>).</text>
<text x="815.6" y="970.4"><tspan font-weight="bold">Step 2:</tspan> Filter out samples in which <tspan class="m">X</tspan> ≠ 1.</text>
<text x="786.1" y="989"><tspan font-weight="bold">Step 3:</tspan> Calculate <tspan class="m">Y</tspan> using the samples of <tspan font-weight="bold">U</tspan>,</text>
<text x="786.1" y="1001.5">fixing <tspan class="m">X</tspan> = 1 and <tspan class="m">W</tspan> to its value sampled when</text>
<text x="786.1" y="1014"><tspan class="m">X</tspan> = 0 (recursively computed for nested terms).</text>
</g>

<!-- RIGHT: SCM SPACE -->
<text x="1099.6" y="166.3" font-size="19.8" fill="#000">Search through SCM Space</text>
<text x="1196.4" y="200" font-size="15.1" fill="#000" text-anchor="middle">Identifiable Case</text>
<text x="1415.5" y="200" font-size="15.1" fill="#000" text-anchor="middle">Non-identifiable Case</text>
<g>
<ellipse cx="1148.5" cy="280" rx="51" ry="67" fill="#3a3a3a"/>
<ellipse cx="1163.5" cy="268.8" rx="33" ry="43.7" fill="#5f8a46" stroke="#4a6e37" stroke-width="0.8"/>
<ellipse cx="1377.5" cy="280" rx="51" ry="67" fill="#3a3a3a"/>
<ellipse cx="1392" cy="268.8" rx="32.5" ry="43.7" fill="#5f8a46" stroke="#4a6e37" stroke-width="0.8"/>
<g fill="#fff">
<circle cx="1122.2" cy="235.7" r="4"/><circle cx="1119.7" cy="262.8" r="4"/><circle cx="1119.7" cy="279.8" r="4"/><circle cx="1116.6" cy="295.5" r="4"/><circle cx="1132.4" cy="312.5" r="4"/><circle cx="1159.3" cy="321.5" r="4"/>
<circle cx="1351.1" cy="235.7" r="4"/><circle cx="1349" cy="262.8" r="4"/><circle cx="1349" cy="279.8" r="4"/><circle cx="1345.6" cy="295.5" r="4"/><circle cx="1361.3" cy="312.5" r="4"/><circle cx="1388.2" cy="321.5" r="4"/>
</g>
<g stroke="#333" stroke-width="0.6">
<circle cx="1167" cy="245.7" r="4" fill="#6ed050"/>
<g fill="#efbd40"><circle cx="1150.6" cy="261.2" r="4"/><circle cx="1183.4" cy="262.2" r="4"/><circle cx="1170.1" cy="267.4" r="4"/><circle cx="1144.7" cy="275.8" r="4"/><circle cx="1170.1" cy="289.3" r="4"/><circle cx="1153.1" cy="295.5" r="4"/>
<circle cx="1413" cy="262.2" r="4"/><circle cx="1373.7" cy="275.8" r="4"/></g>
<circle cx="1396.6" cy="246.3" r="4" fill="#6ed050"/>
<g fill="#e03a2a"><circle cx="1382" cy="239.7" r="4"/><circle cx="1379.6" cy="261.2" r="4"/><circle cx="1399" cy="267.8" r="4"/><circle cx="1399" cy="289.9" r="4"/><circle cx="1382" cy="295.5" r="4"/></g>
</g>
<g stroke="#d0d0d0" stroke-width="1.3" fill="none">
<path d="M1171,244 L1194,235 Q1205,230 1211,222"/><path d="M1187.4,261 L1224,255"/><path d="M1174,290 Q1200,292 1217,281"/><path d="M1166,309 L1200,322"/>
<path d="M1400.6,244 L1423,235 Q1434,230 1439,222"/><path d="M1417,261 L1452,254"/><path d="M1403,291 Q1428,300 1446,293"/><path d="M1393,309 L1430,322"/>
</g>
<rect x="1211" y="213.2" width="101.5" height="25.1" fill="#c5e0b4" stroke="#999" stroke-width="0.8"/>
<rect x="1438.7" y="213" width="98.1" height="24.7" fill="#c5e0b4" stroke="#999" stroke-width="0.8"/>
<g class="s" font-size="12" fill="#000">
<text x="1261.7" y="230" text-anchor="middle"><tspan class="m">ℳ</tspan>* = ⟨<tspan class="m">ℱ</tspan>*, <tspan class="m">P</tspan>*(<tspan font-weight="bold">U</tspan>)⟩</text>
<text x="1225.2" y="258"><tspan class="m">M</tspan> = ⟨<tspan class="m">ℱ</tspan>, <tspan class="m">P</tspan>′(<tspan font-weight="bold">U</tspan>)⟩</text>
<text x="1219" y="285.5"><tspan class="m">M</tspan>′ = ⟨<tspan class="m">ℱ</tspan>′, <tspan class="m">P</tspan>′(<tspan font-weight="bold">U</tspan>)⟩</text>
<text x="1487.7" y="230" text-anchor="middle"><tspan class="m">ℳ</tspan>* = ⟨<tspan class="m">ℱ</tspan>*, <tspan class="m">P</tspan>*(<tspan font-weight="bold">U</tspan>)⟩</text>
<text x="1454.7" y="258"><tspan class="m">M</tspan> = ⟨<tspan class="m">ℱ</tspan>, <tspan class="m">P</tspan>′(<tspan font-weight="bold">U</tspan>)⟩</text>
<text x="1448.6" y="296"><tspan class="m">M</tspan>′ = ⟨<tspan class="m">ℱ</tspan>′, <tspan class="m">P</tspan>′(<tspan font-weight="bold">U</tspan>)⟩</text>
</g>
<g font-size="11" font-weight="bold" fill="#000" text-anchor="middle">
<text x="1261.4" y="323.8">Subspace of all SCMs</text>
<text x="1261.4" y="338.8">that matches ℤ* and <tspan class="m">𝒢</tspan>*</text>
<text x="1487.2" y="323.8">Subspace of all SCMs</text>
<text x="1487.2" y="338.8">that matches ℤ* and <tspan class="m">𝒢</tspan>*</text>
<text x="1145" y="363" font-size="11.5">Space of all SCMs</text>
<text x="1375.9" y="363" font-size="11.5">Space of all SCMs</text>
</g>
</g>
<text x="1312.4" y="396.8" font-size="12.6" fill="#3a4a5e" text-anchor="middle">Query <tspan class="m">Q</tspan> is ID if all SCMs that match <tspan class="m">ℳ</tspan>* in ℤ and <tspan class="m">𝒢</tspan> also match in <tspan class="m">Q</tspan>.</text>

<!-- EXPERIMENTAL RESULTS GRID -->
<g class="s" font-weight="bold" font-size="11.5" fill="#000" text-anchor="middle">
<text x="1191.2" y="471.5">ATE</text><text x="1289.2" y="471.5">ETT</text><text x="1386.7" y="471.5">NDE</text><text x="1485.7" y="471.5">CtfDE</text>
</g>
<g class="s" font-size="5.3" fill="#000" text-anchor="middle">
<text x="1191.2" y="481.5">E[<tspan class="m">Y</tspan><tspan font-size="3.5">X=1</tspan>] − E[<tspan class="m">Y</tspan><tspan font-size="3.5">X=0</tspan>]</text>
<text x="1289.2" y="481.5">E[<tspan class="m">Y</tspan><tspan font-size="3.5">X=1</tspan> | <tspan class="m">X</tspan> = 1] − E[<tspan class="m">Y</tspan><tspan font-size="3.5">X=0</tspan> | <tspan class="m">X</tspan> = 1]</text>
<text x="1386.7" y="481.5">E[<tspan class="m">Y</tspan><tspan font-size="3.5">X=1,W</tspan>] − E[<tspan class="m">Y</tspan><tspan font-size="3.5">X=0</tspan>]</text>
<text x="1485.7" y="481.5">E[<tspan class="m">Y</tspan><tspan font-size="3.5">X=1,W</tspan> | <tspan class="m">X</tspan> = 1] − E[<tspan class="m">Y</tspan><tspan font-size="3.5">X=0</tspan> | <tspan class="m">X</tspan> = 1]</text>
</g>
<g class="s" font-size="6.3" fill="#000" text-anchor="middle">
<text x="1169.2" y="491.5">ℤ =</text><text x="1213.4" y="491.5">ℤ =</text><text x="1266.5" y="491.5">ℤ =</text><text x="1311.4" y="491.5">ℤ =</text><text x="1364.3" y="491.5">ℤ =</text><text x="1409.2" y="491.5">ℤ =</text><text x="1462.2" y="491.5">ℤ =</text><text x="1507" y="491.5">ℤ =</text>
<text x="1169.2" y="500">{<tspan class="m">P</tspan>(V)}</text><text x="1213.4" y="500">{<tspan class="m">P</tspan>(V), <tspan class="m">P</tspan>(V<tspan font-size="4">x</tspan>)}</text>
<text x="1266.5" y="500">{<tspan class="m">P</tspan>(V)}</text><text x="1311.4" y="500">{<tspan class="m">P</tspan>(V), <tspan class="m">P</tspan>(V<tspan font-size="4">x</tspan>)}</text>
<text x="1364.3" y="500">{<tspan class="m">P</tspan>(V)}</text><text x="1409.2" y="500">{<tspan class="m">P</tspan>(V), <tspan class="m">P</tspan>(V<tspan font-size="4">x</tspan>)}</text>
<text x="1462.2" y="500">{<tspan class="m">P</tspan>(V)}</text><text x="1507" y="500">{<tspan class="m">P</tspan>(V), <tspan class="m">P</tspan>(V<tspan font-size="4">x</tspan>)}</text>
</g>
<text x="1106" y="484" class="m" font-size="13" fill="#000" text-anchor="middle">𝒢</text>
<g stroke="#000" stroke-width="1.2"><line x1="1240.4" y1="464.5" x2="1240.4" y2="646.8"/><line x1="1338.7" y1="464.5" x2="1338.7" y2="646.8"/><line x1="1436.2" y1="464.5" x2="1436.2" y2="646.8"/></g>

<g stroke="#999" stroke-width="0.7">
<g transform="translate(1149.1,504.1)"><rect width="40.5" height="29.8" fill="#e8ecf8"/><use href="#idA"/></g>
<g transform="translate(1193.3,504.1)"><rect width="40.5" height="29.8" fill="#e8ecf8"/><use href="#idB"/></g>
<g transform="translate(1245.9,504.1)"><rect width="40.5" height="29.8" fill="#e8ecf8"/><use href="#idA"/></g>
<g transform="translate(1290.8,504.1)"><rect width="40.5" height="29.8" fill="#e8ecf8"/><use href="#idB"/></g>
<g transform="translate(1344,504.1)"><rect width="40.5" height="29.8" fill="#e8ecf8"/><use href="#idA"/></g>
<g transform="translate(1388.9,504.1)"><rect width="40.5" height="29.8" fill="#e8ecf8"/><use href="#idB"/></g>
<g transform="translate(1441.8,504.1)"><rect width="40.5" height="29.8" fill="#e8ecf8"/><use href="#idA"/></g>
<g transform="translate(1486.6,504.1)"><rect width="40.5" height="29.8" fill="#e8ecf8"/><use href="#idB"/></g>
<g transform="translate(1149.1,539.5)"><rect width="40.5" height="29.8" fill="#fdfbe3"/><use href="#nonA"/></g>
<g transform="translate(1193.3,539.5)"><rect width="40.5" height="29.8" fill="#e8ecf8"/><use href="#idB"/></g>
<g transform="translate(1245.9,539.5)"><rect width="40.5" height="29.8" fill="#fdfbe3"/><use href="#nonA"/></g>
<g transform="translate(1290.8,539.5)"><rect width="40.5" height="29.8" fill="#fdfbe3"/><use href="#nonB"/></g>
<g transform="translate(1344,539.5)"><rect width="40.5" height="29.8" fill="#fdfbe3"/><use href="#nonA"/></g>
<g transform="translate(1388.9,539.5)"><rect width="40.5" height="29.8" fill="#e8ecf8"/><use href="#idB"/></g>
<g transform="translate(1441.8,539.5)"><rect width="40.5" height="29.8" fill="#fdfbe3"/><use href="#nonA"/></g>
<g transform="translate(1486.6,539.5)"><rect width="40.5" height="29.8" fill="#fdfbe3"/><use href="#nonB"/></g>
<g transform="translate(1149.1,574.9)"><rect width="40.5" height="29.8" fill="#fdfbe3"/><use href="#flat"/></g>
<g transform="translate(1193.3,574.9)"><rect width="40.5" height="29.8" fill="#e8ecf8"/><use href="#idB"/></g>
<g transform="translate(1245.9,574.9)"><rect width="40.5" height="29.8" fill="#fdfbe3"/><use href="#flat"/></g>
<g transform="translate(1290.8,574.9)"><rect width="40.5" height="29.8" fill="#fdfbe3"/><use href="#nonB"/></g>
<g transform="translate(1344,574.9)"><rect width="40.5" height="29.8" fill="#fdfbe3"/><use href="#flat"/></g>
<g transform="translate(1388.9,574.9)"><rect width="40.5" height="29.8" fill="#e8ecf8"/><use href="#idB"/></g>
<g transform="translate(1441.8,574.9)"><rect width="40.5" height="29.8" fill="#fdfbe3"/><use href="#flat"/></g>
<g transform="translate(1486.6,574.9)"><rect width="40.5" height="29.8" fill="#fdfbe3"/><use href="#nonB"/></g>
<g transform="translate(1149.1,610.3)"><rect width="40.5" height="29.8" fill="#e8ecf8"/><use href="#idA"/></g>
<g transform="translate(1193.3,610.3)"><rect width="40.5" height="29.8" fill="#e8ecf8"/><use href="#idB"/></g>
<g transform="translate(1245.9,610.3)"><rect width="40.5" height="29.8" fill="#e8ecf8"/><use href="#idA"/></g>
<g transform="translate(1290.8,610.3)"><rect width="40.5" height="29.8" fill="#e8ecf8"/><use href="#idB"/></g>
<g transform="translate(1344,610.3)"><rect width="40.5" height="29.8" fill="#fdfbe3"/><use href="#nonA"/></g>
<g transform="translate(1388.9,610.3)"><rect width="40.5" height="29.8" fill="#fdfbe3"/><use href="#nonB"/></g>
<g transform="translate(1441.8,610.3)"><rect width="40.5" height="29.8" fill="#fdfbe3"/><use href="#nonA"/></g>
<g transform="translate(1486.6,610.3)"><rect width="40.5" height="29.8" fill="#fdfbe3"/><use href="#nonB"/></g>
</g>
<g fill="none" stroke="#555" stroke-width="0.6">
<circle cx="1154.1" cy="509.6" r="3.7"/><circle cx="1198.3" cy="509.6" r="3.7"/><circle cx="1250.9" cy="509.6" r="3.7"/><circle cx="1295.8" cy="509.6" r="3.7"/><circle cx="1349" cy="509.6" r="3.7"/><circle cx="1393.9" cy="509.6" r="3.7"/><circle cx="1446.8" cy="509.6" r="3.7"/><circle cx="1491.6" cy="509.6" r="3.7"/>
<circle cx="1198.3" cy="545" r="3.7"/><circle cx="1393.9" cy="545" r="3.7"/><circle cx="1198.3" cy="580.4" r="3.7"/><circle cx="1393.9" cy="580.4" r="3.7"/>
<circle cx="1154.1" cy="615.8" r="3.7"/><circle cx="1198.3" cy="615.8" r="3.7"/><circle cx="1250.9" cy="615.8" r="3.7"/><circle cx="1295.8" cy="615.8" r="3.7"/>
</g>
<g class="s" font-size="4.3" fill="#333" text-anchor="middle">
<text x="1154.1" y="511.1">1</text><text x="1198.3" y="511.1">2</text><text x="1250.9" y="511.1">3</text><text x="1295.8" y="511.1">4</text><text x="1349" y="511.1">5</text><text x="1393.9" y="511.1">6</text><text x="1446.8" y="511.1">7</text><text x="1491.6" y="511.1">8</text>
<text x="1198.3" y="546.5">9</text><text x="1393.9" y="546.5">10</text><text x="1198.3" y="581.9">11</text><text x="1393.9" y="581.9">12</text>
<text x="1154.1" y="617.3">13</text><text x="1198.3" y="617.3">14</text><text x="1250.9" y="617.3">15</text><text x="1295.8" y="617.3">16</text>
</g>
<g font-size="5" fill="#333" text-anchor="end">
<text x="1147" y="506">1.0</text><text x="1147" y="520.5">0.5</text><text x="1147" y="535.5">0.0</text>
<text x="1147" y="541.5">1.0</text><text x="1147" y="556">0.5</text><text x="1147" y="571">0.0</text>
<text x="1147" y="577">1.0</text><text x="1147" y="591.5">0.5</text><text x="1147" y="606.5">0.0</text>
<text x="1147" y="612.5">1.0</text><text x="1147" y="627">0.5</text><text x="1147" y="642">0.0</text>
</g>
<g font-size="4.6" fill="#333" text-anchor="middle">
<text x="1149.1" y="646.5">0</text><text x="1168.5" y="646.5">500</text><text x="1188" y="646.5">1000</text>
<text x="1193.3" y="646.5">0</text><text x="1212.7" y="646.5">500</text><text x="1232.2" y="646.5">1000</text>
<text x="1245.9" y="646.5">0</text><text x="1265.3" y="646.5">500</text><text x="1284.8" y="646.5">1000</text>
<text x="1290.8" y="646.5">0</text><text x="1310.2" y="646.5">500</text><text x="1329.7" y="646.5">1000</text>
<text x="1344" y="646.5">0</text><text x="1363.4" y="646.5">500</text><text x="1382.9" y="646.5">1000</text>
<text x="1388.9" y="646.5">0</text><text x="1408.3" y="646.5">500</text><text x="1427.8" y="646.5">1000</text>
<text x="1441.8" y="646.5">0</text><text x="1461.2" y="646.5">500</text><text x="1480.7" y="646.5">1000</text>
<text x="1486.6" y="646.5">0</text><text x="1506" y="646.5">500</text><text x="1525.5" y="646.5">1000</text>
</g>
<text x="1335.6" y="653" font-size="5.6" fill="#333" text-anchor="middle">Training Iteration</text>
<text transform="translate(1136,576) rotate(-90)" font-size="5.6" fill="#333" text-anchor="middle">ID Accuracy</text>
<!-- graph icons -->
<g id="gicon" stroke="#aaa" stroke-width="0.7" fill="#fff">
<line x1="1106.7" y1="503.6" x2="1089.7" y2="519.1"/><line x1="1106.7" y1="503.6" x2="1123.7" y2="519.1"/><line x1="1106.7" y1="503.6" x2="1106.7" y2="536.1"/><line x1="1089.7" y1="519.1" x2="1123.7" y2="519.1" stroke-width="1.5"/><line x1="1089.7" y1="519.1" x2="1106.7" y2="536.1"/><line x1="1123.7" y1="519.1" x2="1106.7" y2="536.1"/>
<circle cx="1106.7" cy="503.6" r="4.5"/><circle cx="1089.7" cy="519.1" r="4.5"/><circle cx="1123.7" cy="519.1" r="4.5"/><circle cx="1106.7" cy="536.1" r="4.5"/>
</g>
<use href="#gicon" y="35.4"/><use href="#gicon" y="70.6"/><use href="#gicon" y="105.8"/>
<g stroke="#e04040" stroke-width="0.8" stroke-dasharray="1,1" fill="none">
<path d="M1088,560 Q1090,570 1102,572"/><path d="M1093,586 Q1106,578 1120,586"/><path d="M1111,642 Q1122,641 1124,631"/>
</g>
<!-- caption -->
<g font-size="11.6" fill="#3a4a5e" text-anchor="middle">
<text x="1309.4" y="674">Accuracies on deciding identifiability on several graph, query, and input settings.</text>
<text x="1309.4" y="689.5">GAN-NCM (green) is compared with MLE-NCM (orange) for settings with</text>
<text x="1309.4" y="705">dimensionality <tspan class="s">d = 1</tspan>. GAN-NCM performance is also shown for <tspan class="s">d = 16</tspan> (dashed</text>
<text x="1309.4" y="720.5">green). Blue plots are ID ground truth and yellow plots are non-ID.</text>
</g>

<!-- MAE GRID -->
<g stroke="#222" stroke-width="1" fill="#fff">
<g transform="translate(1103.6,743.3)"><rect width="58.8" height="45"/><use href="#mC"/></g>
<g transform="translate(1168.6,743.3)"><rect width="58.8" height="45"/><use href="#mA"/></g>
<g transform="translate(1233.5,743.3)"><rect width="58.8" height="45"/><use href="#mB"/></g>
<g transform="translate(1299.5,743.3)"><rect width="58.8" height="45"/><use href="#mC"/></g>
<g transform="translate(1103.6,792.9)"><rect width="58.8" height="45"/><use href="#mB"/></g>
<g transform="translate(1168.6,792.9)"><rect width="58.8" height="45"/><use href="#mB"/></g>
<g transform="translate(1233.5,792.9)"><rect width="58.8" height="45"/><use href="#mB"/></g>
<g transform="translate(1299.5,792.9)"><rect width="58.8" height="45"/><use href="#mC"/></g>
<g transform="translate(1103.6,842)"><rect width="58.8" height="45"/><use href="#mA"/></g>
<g transform="translate(1168.6,842)"><rect width="58.8" height="45"/><use href="#mC"/></g>
<g transform="translate(1233.5,842)"><rect width="58.8" height="45"/><use href="#mA"/></g>
<g transform="translate(1299.5,842)"><rect width="58.8" height="45"/><use href="#mB"/></g>
<g transform="translate(1103.6,891.2)"><rect width="58.8" height="45"/><use href="#mA"/></g>
<g transform="translate(1168.6,891.2)"><rect width="58.8" height="45"/><use href="#mA"/></g>
<g transform="translate(1233.5,891.2)"><rect width="58.8" height="45"/><use href="#mB"/></g>
<g transform="translate(1299.5,891.2)"><rect width="58.8" height="45"/><use href="#mC"/></g>
</g>
<g fill="#fff" stroke="#000" stroke-width="1">
<circle cx="1154.1" cy="752.3" r="5.6"/><circle cx="1219.1" cy="752.3" r="5.6"/><circle cx="1284" cy="752.3" r="5.6"/><circle cx="1350" cy="752.3" r="5.6"/>
<circle cx="1154.1" cy="801.9" r="5.6"/><circle cx="1219.1" cy="801.9" r="5.6"/><circle cx="1284" cy="801.9" r="5.6"/><circle cx="1350" cy="801.9" r="5.6"/>
<circle cx="1154.1" cy="851" r="5.6"/><circle cx="1219.1" cy="851" r="5.6"/><circle cx="1284" cy="851" r="5.6"/><circle cx="1350" cy="851" r="5.6"/>
<circle cx="1154.1" cy="900.2" r="5.6"/><circle cx="1219.1" cy="900.2" r="5.6"/><circle cx="1284" cy="900.2" r="5.6"/><circle cx="1350" cy="900.2" r="5.6"/>
</g>
<g font-size="7" fill="#000" text-anchor="middle">
<text x="1154.1" y="754.8">1</text><text x="1219.1" y="754.8">2</text><text x="1284" y="754.8">3</text><text x="1350" y="754.8">4</text>
<text x="1154.1" y="804.4">5</text><text x="1219.1" y="804.4">6</text><text x="1284" y="804.4">7</text><text x="1350" y="804.4">8</text>
<text x="1154.1" y="853.5">9</text><text x="1219.1" y="853.5" font-size="6.3">10</text><text x="1284" y="853.5" font-size="6.3">11</text><text x="1350" y="853.5" font-size="6.3">12</text>
<text x="1154.1" y="902.7" font-size="6.3">13</text><text x="1219.1" y="902.7" font-size="6.3">14</text><text x="1284" y="902.7" font-size="6.3">15</text><text x="1350" y="902.7" font-size="6.3">16</text>
</g>
<g font-size="6.2" fill="#222" text-anchor="end">
<text x="1101" y="748">10<tspan font-size="4.3" dy="-2.5">0</tspan></text><text x="1101" y="773">10<tspan font-size="4.3" dy="-2.5">−2</tspan></text>
<text x="1101" y="797.5">10<tspan font-size="4.3" dy="-2.5">0</tspan></text><text x="1101" y="822.5">10<tspan font-size="4.3" dy="-2.5">−2</tspan></text>
<text x="1101" y="846.5">10<tspan font-size="4.3" dy="-2.5">0</tspan></text><text x="1101" y="871.5">10<tspan font-size="4.3" dy="-2.5">−2</tspan></text>
<text x="1101" y="896">10<tspan font-size="4.3" dy="-2.5">0</tspan></text><text x="1101" y="921">10<tspan font-size="4.3" dy="-2.5">−2</tspan></text>
</g>
<g font-size="6.2" fill="#222" text-anchor="middle">
<text x="1106" y="946">10<tspan font-size="4.3" dy="-2.5">3</tspan></text><text x="1133" y="946">10<tspan font-size="4.3" dy="-2.5">4</tspan></text><text x="1161" y="946">10<tspan font-size="4.3" dy="-2.5">5</tspan></text>
<text x="1171" y="946">10<tspan font-size="4.3" dy="-2.5">3</tspan></text><text x="1198" y="946">10<tspan font-size="4.3" dy="-2.5">4</tspan></text><text x="1226" y="946">10<tspan font-size="4.3" dy="-2.5">5</tspan></text>
<text x="1236" y="946">10<tspan font-size="4.3" dy="-2.5">3</tspan></text><text x="1263" y="946">10<tspan font-size="4.3" dy="-2.5">4</tspan></text><text x="1291" y="946">10<tspan font-size="4.3" dy="-2.5">5</tspan></text>
<text x="1302" y="946">10<tspan font-size="4.3" dy="-2.5">3</tspan></text><text x="1329" y="946">10<tspan font-size="4.3" dy="-2.5">4</tspan></text><text x="1357" y="946">10<tspan font-size="4.3" dy="-2.5">5</tspan></text>
</g>
<text x="1225.8" y="955.5" font-size="8.3" fill="#222" text-anchor="middle">Number of Samples (n)</text>
<text transform="translate(1080,840) rotate(-90)" font-size="7.2" fill="#222" text-anchor="middle">MAE of Query Estimation</text>
<g font-size="12.5" fill="#3a4a5e" text-anchor="middle">
<text x="1219.6" y="978.3">Mean absolute error (MAE) on estimating the</text>
<text x="1219.6" y="993">identifiable queries from above.</text>
</g>

<!-- RUNTIME CHART -->
<rect x="1389.8" y="766.4" width="152.5" height="80.6" fill="#eaeaf2"/>
<g stroke="#fff" stroke-width="0.6">
<line x1="1389.8" y1="786.6" x2="1542.3" y2="786.6"/><line x1="1389.8" y1="806.7" x2="1542.3" y2="806.7"/><line x1="1389.8" y1="826.9" x2="1542.3" y2="826.9"/>
<line x1="1396.6" y1="766.4" x2="1396.6" y2="847"/><line x1="1419.8" y1="766.4" x2="1419.8" y2="847"/><line x1="1442.7" y1="766.4" x2="1442.7" y2="847"/><line x1="1465.9" y1="766.4" x2="1465.9" y2="847"/><line x1="1489.1" y1="766.4" x2="1489.1" y2="847"/><line x1="1512.3" y1="766.4" x2="1512.3" y2="847"/><line x1="1535.5" y1="766.4" x2="1535.5" y2="847"/>
</g>
<polygon points="1396.6,842.5 1419.8,841.5 1442.7,838.5 1465.9,834 1489.1,823.5 1512.3,806.5 1535.5,773 1535.5,781 1512.3,812.5 1489.1,829 1465.9,837.5 1442.7,841.5 1419.8,843.5 1396.6,844.5" fill="#f3c47a" opacity="0.5"/>
<polyline points="1396.6,843.5 1419.8,842.5 1442.7,840 1465.9,835.9 1489.1,826.3 1512.3,809.7 1535.5,777" fill="none" stroke="#f0a53a" stroke-width="1.5"/>
<polyline points="1396.6,842 1535.5,842" fill="none" stroke="#3f8f3a" stroke-width="1.3"/>
<g fill="#f0a53a"><circle cx="1396.6" cy="843.5" r="1.2"/><circle cx="1419.8" cy="842.5" r="1.2"/><circle cx="1442.7" cy="840" r="1.2"/><circle cx="1465.9" cy="835.9" r="1.2"/><circle cx="1489.1" cy="826.3" r="1.2"/><circle cx="1512.3" cy="809.7" r="1.2"/><circle cx="1535.5" cy="777" r="1.2"/></g>
<g font-size="7" fill="#444" text-anchor="end">
<text x="1386" y="769">800</text><text x="1386" y="789">600</text><text x="1386" y="809">400</text><text x="1386" y="829">200</text><text x="1386" y="849.5">0</text>
</g>
<g font-size="7" fill="#444" text-anchor="middle">
<text x="1396.6" y="855">1</text><text x="1419.8" y="855">2</text><text x="1442.7" y="855">3</text><text x="1465.9" y="855">4</text><text x="1489.1" y="855">5</text><text x="1512.3" y="855">6</text><text x="1535.5" y="855">7</text>
<text x="1455.4" y="861">Dimension (d)</text>
</g>
<text transform="translate(1373,806.5) rotate(-90)" font-size="7" fill="#444" text-anchor="middle">Time (in seconds)</text>
<g font-size="12.7" fill="#3a4a5e" text-anchor="middle">
<text x="1458.8" y="881">Run-time comparison</text>
<text x="1458.8" y="895.1">between GAN-NCM (green)</text>
<text x="1458.8" y="909.5">and MLE-NCM (orange).</text>
</g>
</svg>
</body></html>
